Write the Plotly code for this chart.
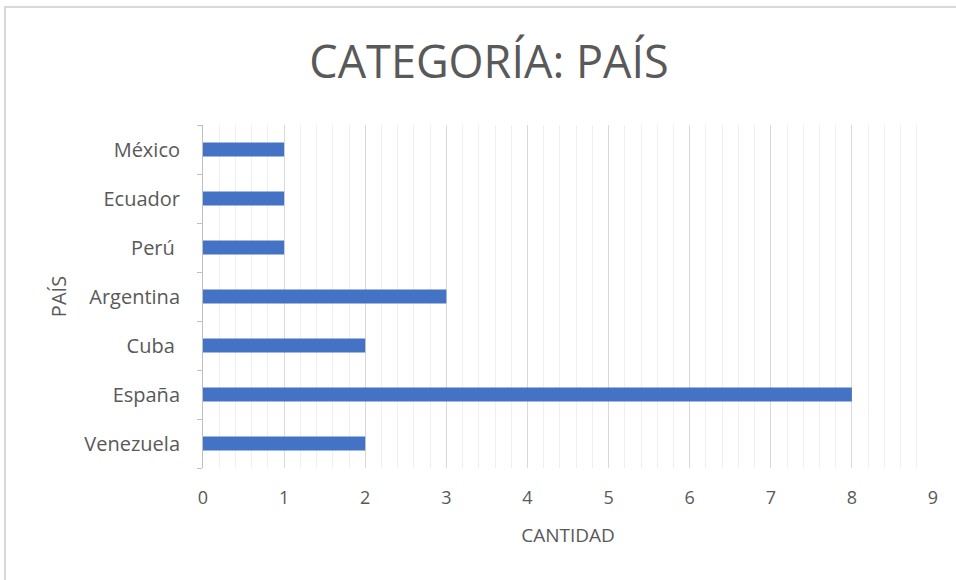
import plotly.graph_objects as go

paises = ["Venezuela", "España", "Cuba ", "Argentina", "Perú ", "Ecuador", "México"]
cantidad = [2, 8, 2, 3, 1, 1, 1]
x_ticks = [0, 1, 2, 3, 4, 5, 6, 7, 8, 9]

W, H = 956, 580
L, R, T, B = 203, 23, 125, 112
pw, ph = W - L - R, H - T - B

fig = go.Figure(go.Bar(
    y=paises, x=cantidad, orientation="h",
    marker=dict(color="#4472C4", line=dict(width=0)),
    width=0.29,
))

font_fam = "Open Sans"
fig.update_layout(
    width=W, height=H,
    margin=dict(l=L, r=R, t=T, b=B),
    paper_bgcolor="white", plot_bgcolor="white",
    showlegend=False,
    title=dict(text="CATEGORÍA: PAÍS", x=489 / W, xref="container", xanchor="center",
               y=1 - 62 / H, yref="container", yanchor="middle",
               font=dict(family=font_fam, size=45, color="#595959")),
    font=dict(family=font_fam, color="#595959"),
    xaxis=dict(
        range=[0, 9], tickvals=x_ticks, showgrid=True, gridcolor="#d9d9d9", gridwidth=1,
        minor=dict(dtick=0.2, showgrid=True, gridcolor="#efefef", gridwidth=1),
        zeroline=False, showline=False, ticks="",
        tickfont=dict(size=18, color="#595959", family=font_fam),
        ticklabelstandoff=17,
        title=dict(text="CANTIDAD", font=dict(size=19, color="#595959", family=font_fam), standoff=20),
        fixedrange=True,
    ),
    yaxis=dict(
        showgrid=False, showline=True, linecolor="#bfbfbf", linewidth=1,
        ticks="outside", tickson="boundaries", ticklen=5, tickcolor="#bfbfbf",
        tickfont=dict(size=20, color="#595959", family=font_fam),
        title=dict(text="PAÍS", font=dict(size=20, color="#595959", family=font_fam), standoff=12),
        ticklabelstandoff=18,
    ),
    shapes=[dict(type="rect", xref="paper", yref="paper",
                 x0=(5 - L) / pw, x1=(975 - L) / pw,
                 y0=(H - B - 600) / ph, y1=(H - B - 7) / ph,
                 line=dict(color="#d9d9d9", width=2), fillcolor="rgba(0,0,0,0)", layer="below")],
)

fig.write_html("out.html", config={"displayModeBar": False},
               post_script="document.body.style.margin='0';")
